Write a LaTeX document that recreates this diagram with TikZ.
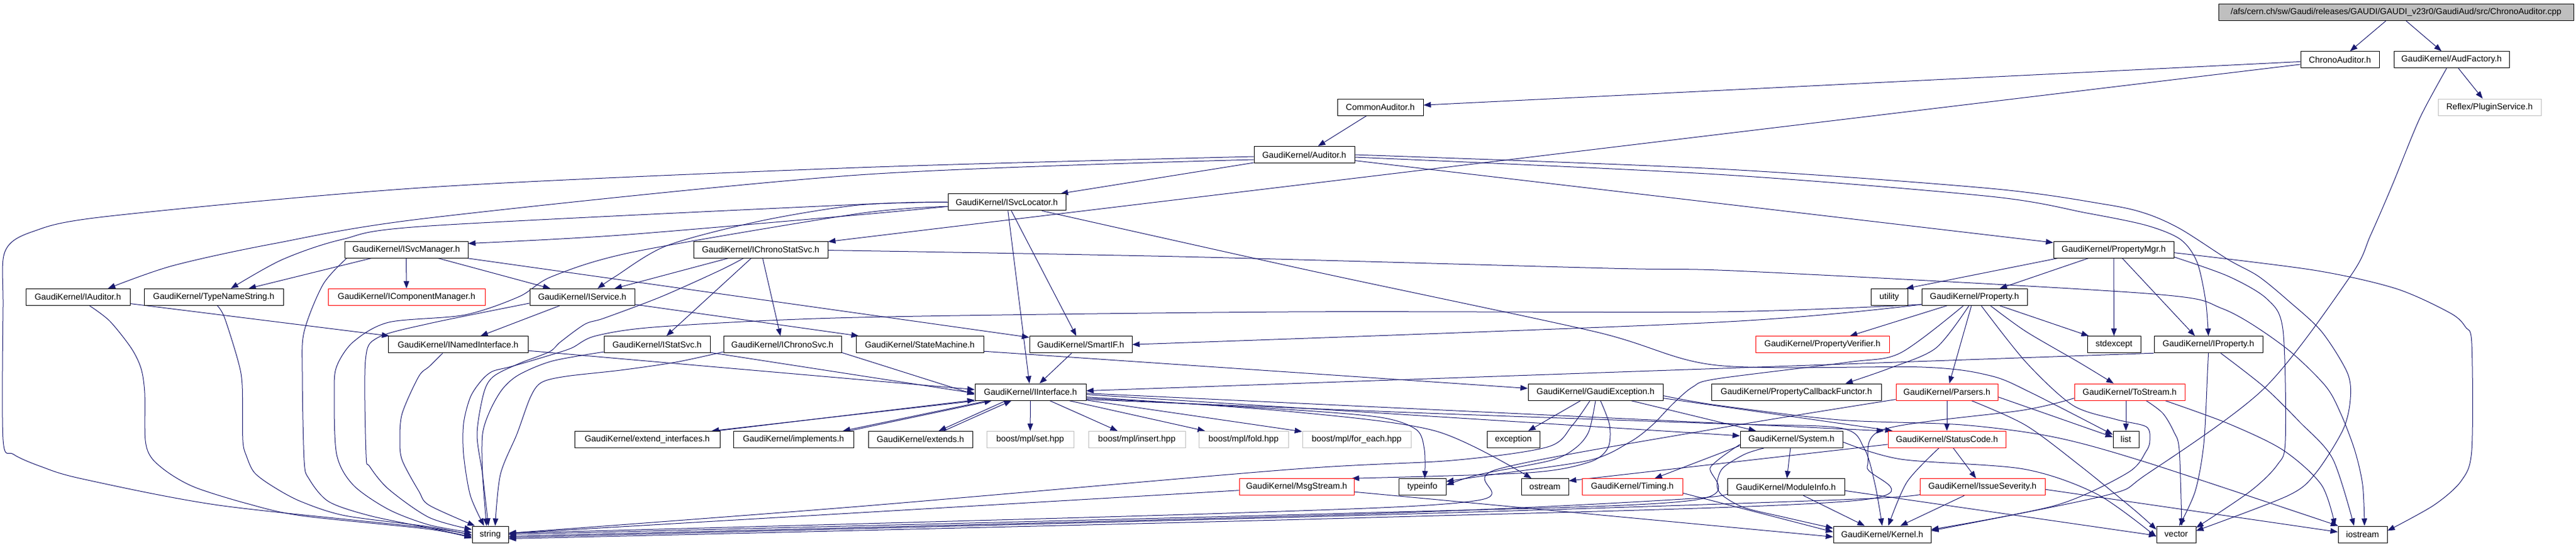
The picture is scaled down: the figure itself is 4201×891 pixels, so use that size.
\documentclass[tikz,border=0pt]{standalone}
\usepackage{fontspec}
\setmainfont{Liberation Sans}
\usetikzlibrary{arrows.meta}
\definecolor{edgec}{HTML}{191970}
\definecolor{redb}{HTML}{FF0000}
\definecolor{grayb}{HTML}{BFBFBF}
\pgfdeclarelayer{edgelayer}
\pgfsetlayers{edgelayer,main}
\newcommand\gbox[6]{\node[#1, minimum width=#5pt] (#2) at (#3,#4) {#6};}
\begin{document}
\begin{tikzpicture}[x=1pt,y=-1pt,
  nb/.style={draw=black, line width=1pt, fill=white, inner sep=0pt, minimum height=27pt, font=\fontsize{14}{16}\selectfont, text=black},
  rb/.style={nb, draw=redb},
  gb/.style={nb, draw=grayb},
  e/.style={draw=edgec, line width=1pt, -{Triangle[length=12pt,width=9pt]}}]
\useasboundingbox (0,0) rectangle (4201,891);
% row 0
\gbox{nb,fill=grayb}{root}{3907.5}{20}{579}{/afs/cern.ch/sw/Gaudi/releases/GAUDI/GAUDI\_v23r0/GaudiAud/src/ChronoAuditor.cpp}
% row 1
\gbox{nb}{chrA}{3816}{97.3}{128}{ChronoAuditor.h}
\gbox{nb}{audF}{3998}{97.3}{188}{GaudiKernel/AudFactory.h}
% row 2
\gbox{nb}{comA}{2251}{174.6}{140}{CommonAuditor.h}
\gbox{gb}{plug}{4060}{174.6}{168}{Reflex/PluginService.h}
% row 3
\gbox{nb}{aud}{2127}{252}{164}{GaudiKernel/Auditor.h}
% row 4
\gbox{nb}{svcLoc}{1642}{329.3}{192}{GaudiKernel/ISvcLocator.h}
% row 5
\gbox{nb}{svcMgr}{662.5}{406.6}{201}{GaudiKernel/ISvcManager.h}
\gbox{nb}{chronoStat}{1240.5}{406.6}{219}{GaudiKernel/IChronoStatSvc.h}
\gbox{nb}{propMgr}{3447}{406.6}{196}{GaudiKernel/PropertyMgr.h}
% row 6
\gbox{nb}{iAud}{127}{483.9}{170}{GaudiKernel/IAuditor.h}
\gbox{nb}{typeName}{348.5}{483.9}{227}{GaudiKernel/TypeNameString.h}
\gbox{rb}{iComp}{663}{483.9}{256}{GaudiKernel/IComponentManager.h}
\gbox{nb}{iSvc}{949.5}{483.9}{171}{GaudiKernel/IService.h}
\gbox{nb}{utility}{3081}{483.9}{60}{utility}
\gbox{nb}{prop}{3220}{483.9}{172}{GaudiKernel/Property.h}
% row 7
\gbox{nb}{named}{747}{561.2}{228}{GaudiKernel/INamedInterface.h}
\gbox{nb}{iStat}{1071.5}{561.2}{173}{GaudiKernel/IStatSvc.h}
\gbox{nb}{iChrono}{1276}{561.2}{192}{GaudiKernel/IChronoSvc.h}
\gbox{nb}{stateM}{1500}{561.2}{208}{GaudiKernel/StateMachine.h}
\gbox{nb}{smartIF}{1762.5}{561.2}{167}{GaudiKernel/SmartIF.h}
\gbox{rb}{propVer}{2972}{561.2}{218}{GaudiKernel/PropertyVerifier.h}
\gbox{nb}{stdexcept}{3447.5}{561.2}{87}{stdexcept}
\gbox{nb}{iProp}{3601.5}{561.2}{177}{GaudiKernel/IProperty.h}
% row 8
\gbox{nb}{iIntf}{1680.5}{638.6}{181}{GaudiKernel/IInterface.h}
\gbox{nb}{gExc}{2602}{638.6}{220}{GaudiKernel/GaudiException.h}
\gbox{nb}{propCB}{2929.5}{638.6}{277}{GaudiKernel/PropertyCallbackFunctor.h}
\gbox{rb}{parsers}{3175}{638.6}{166}{GaudiKernel/Parsers.h}
\gbox{rb}{toStream}{3473}{638.6}{180}{GaudiKernel/ToStream.h}
% row 9
\gbox{nb}{extIntf}{1055.5}{715.9}{237}{GaudiKernel/extend\_interfaces.h}
\gbox{nb}{impl}{1294}{715.9}{196}{GaudiKernel/implements.h}
\gbox{nb}{extends}{1501}{715.9}{170}{GaudiKernel/extends.h}
\gbox{gb}{mplset}{1680}{715.9}{142}{boost/mpl/set.hpp}
\gbox{gb}{mplinsert}{1854}{715.9}{158}{boost/mpl/insert.hpp}
\gbox{gb}{mplfold}{2028}{715.9}{146}{boost/mpl/fold.hpp}
\gbox{gb}{forEach}{2212.5}{715.9}{177}{boost/mpl/for\_each.hpp}
\gbox{nb}{exception}{2468}{715.9}{86}{exception}
\gbox{nb}{system}{2921.5}{715.9}{167}{GaudiKernel/System.h}
\gbox{rb}{statusCode}{3175}{715.9}{192}{GaudiKernel/StatusCode.h}
\gbox{nb}{nlist}{3467}{715.9}{42}{list}
% row 10
\gbox{rb}{msg}{2114.5}{793.2}{187}{GaudiKernel/MsgStream.h}
\gbox{nb}{typeinfo}{2319.5}{793.2}{77}{typeinfo}
\gbox{nb}{ostream}{2519.5}{793.2}{77}{ostream}
\gbox{rb}{timing}{2662}{793.2}{164}{GaudiKernel/Timing.h}
\gbox{nb}{moduleInfo}{2912.5}{793.2}{191}{GaudiKernel/ModuleInfo.h}
\gbox{rb}{issueSev}{3233}{793.2}{204}{GaudiKernel/IssueSeverity.h}
% row 11
\gbox{nb}{nstring}{799.5}{870.5}{59}{string}
\gbox{nb}{kernel}{3069.5}{870.5}{159}{GaudiKernel/Kernel.h}
\gbox{nb}{nvector}{3549}{870.5}{64}{vector}
\gbox{nb}{iostream}{3853}{870.5}{80}{iostream}

\begin{pgfonlayer}{edgelayer}
% top
\draw[e] (root) -- (chrA);
\draw[e] (root) -- (audF);
\draw[e] (chrA) -- (comA);
\draw[e] (chrA) -- (chronoStat);
\draw[e] (audF) -- (plug);
\draw[e] plot[smooth] coordinates {([xshift=-8pt]audF.south) (3946,193) (3902,300) (3866,383) (3833,450) (3692,633) (3500,773) (3434,807) ([yshift=6pt]kernel.east)};
\draw[e] (comA) -- (aud);
% Auditor
\draw[e] plot[smooth] coordinates {([yshift=-3pt]aud.west) (1400,273) (700,305) (179,352) (54,377) (8,410) (5,500) (5,716) (22,740) (67,760) (134,780) (357,823) (700,860) ([yshift=-2pt]nstring.west)};
\draw[e] plot[smooth] coordinates {([yshift=-8pt]aud.west) (1400,285) (700,355) (446,397) (281,433) ([xshift=49pt]iAud.north)};
\draw[e] (aud) -- (svcLoc);
\draw[e] (aud) -- (propMgr);
\draw[e] plot[smooth] coordinates {([yshift=-4pt]aud.east) (2800,284) (3246,320) (3403,347) (3500,367) (3556,390) (3583,427) (3597,490) (iProp.north)};
\draw[e] plot[smooth] coordinates {(aud.east) (2800,275) (3246,307) (3434,333) (3500,348) (3556,373) (3634,423) (3683,450) (3732,490) (3786,540) (3828,607) (3833,650) (3821,700) (3777,770) (3732,807) ([yshift=6pt]nvector.east)};
% ISvcLocator
\draw[e] plot[smooth] coordinates {(svcLoc.west) (1400,333) (700,368) (558,390) (460,423) ([xshift=28pt]typeName.north)};
\draw[e] plot[smooth] coordinates {(svcLoc.west) (1400,334) (1240,360) (1088,400) (1004,450) ([xshift=25pt]iSvc.north)};
\draw[e] plot[smooth] coordinates {([yshift=-7pt]svcLoc.west) (1400,350) (1012,383) ([yshift=10pt]svcMgr.east)};
\draw[e] plot[smooth] coordinates {([yshift=-7pt]svcLoc.west) (1400,348) (1035,410) (901,450) (847,483) (758,513) (634,525) (576,557) (549,597) (545,640) (549,740) (576,790) (634,830) (700,855) ([yshift=3pt]nstring.west)};
\draw[e] (svcLoc) -- (iIntf);
\draw[e] (svcLoc) -- (smartIF);
\draw[e] plot[smooth] coordinates {([xshift=57pt]svcLoc.south) (2133,440) (2600,540) (2800,595) (3135,598) (3246,612) (3313,640) ([yshift=8pt]nlist.west)};
% ISvcManager
\draw[e] (svcMgr) -- (iComp);
\draw[e] (svcMgr) -- (typeName);
\draw[e] plot[smooth] coordinates {([xshift=-97pt]svcMgr.south) (527,463) (496,540) (493,607) (496,750) (504,780) (536,817) (603,840) (700,860) ([yshift=-4pt]nstring.west)};
\draw[e] (svcMgr) -- (iSvc);
\draw[e] (svcMgr) -- (smartIF);
% IChronoStatSvc
\draw[e] (chronoStat) -- (iSvc);
\draw[e] plot[smooth] coordinates {([xshift=-28pt]chronoStat.south) (1175,440) (1079,483) (986,518) (954,528) (914,557) (896,573) (847,592) (805,613) (789,640) (778,707) (787,773) ([xshift=-3pt]nstring.north)};
\draw[e] (chronoStat) -- (iStat);
\draw[e] (chronoStat) -- (iChrono);
\draw[e] plot[smooth] coordinates {([yshift=-1pt]chronoStat.east) (1923,418) (2623,437) (2849,442) (3500,478) (3625,503) (3723,563) (3791,627) (3817,673) (3840,733) (3853,790) ([xshift=3pt]iostream.north)};
% IAuditor, TypeNameString, IService
\draw[e] (iAud) -- (named);
\draw[e] plot[smooth] coordinates {([xshift=19pt]iAud.south) (179,523) (214,567) (230,600) (236,640) (237,717) (248,747) (279,773) (321,795) (402,820) (491,840) (700,862) ([yshift=-6pt]nstring.west)};
\draw[e] plot[smooth] coordinates {([xshift=6pt]typeName.south) (366,517) (388,587) (395,627) (396,717) (402,743) (415,770) (446,793) (491,817) (563,840) (700,858) ([yshift=-1pt]nstring.west)};
\draw[e] (iSvc) -- (named);
\draw[e] (iSvc) -- (stateM);
\draw[e] plot[smooth] coordinates {([yshift=-10pt]iSvc.west) (700,527) (616,550) (596,587) (597,740) (603,760) (634,797) (700,843) ([yshift=8pt]nstring.west)};
% row 7 sources
\draw[e] ([yshift=-10pt]named.east) -- ([yshift=4pt]iIntf.west);
\draw[e] plot[smooth] coordinates {([xshift=-25pt]named.south) (700,597) (683,613) (656,673) (652,717) (656,750) (683,800) (700,823) ([xshift=5pt]nstring.north west)};
\draw[e] ([yshift=-13pt]iStat.east) -- ([yshift=-2pt]iIntf.west);
\draw[e] plot[smooth] coordinates {([yshift=-12pt]iStat.west) (901,588) (847,610) (820,633) (800,667) (787,707) (787,773) ([xshift=-6pt]nstring.north)};
\draw[e] ([yshift=-13pt]iChrono.east) -- ([yshift=-4pt]iIntf.west);
\draw[e] plot[smooth] coordinates {([yshift=-12pt]iChrono.west) (1102,590) (1012,603) (923,613) (883,623) (865,647) (843,707) (816,773) ([xshift=8pt]nstring.north)};
\draw[e] ([yshift=-11pt]stateM.east) -- ([yshift=6pt]gExc.west);
\draw[e] (smartIF) -- (iIntf);
% IInterface
\draw[e] ([xshift=4pt]iIntf.south west) -- ([xshift=-14pt]extIntf.north east);
\draw[e] ([xshift=-6pt]extIntf.north east) -- ([yshift=1pt]iIntf.south west);
\draw[e] ([xshift=22pt]iIntf.south west) -- ([xshift=-18pt]impl.north east);
\draw[e] ([xshift=-8pt]impl.north east) -- ([xshift=28pt]iIntf.south west);
\draw[e] ([xshift=-40pt]iIntf.south) -- ([xshift=30pt]extends.north);
\draw[e] ([xshift=38pt]extends.north) -- ([xshift=-31pt]iIntf.south);
\draw[e] (iIntf) -- (mplset);
\draw[e] (iIntf) -- (mplinsert);
\draw[e] (iIntf) -- (mplfold);
\draw[e] (iIntf) -- (forEach);
\draw[e] plot[smooth] coordinates {([yshift=-10pt]iIntf.east) (2100,667) (2252,680) (2310,700) (2323,733) ([xshift=4pt]typeinfo.north)};
\draw[e] plot[smooth] coordinates {([yshift=-8pt]iIntf.east) (2100,670) (2341,702) ([xshift=-22pt]ostream.north)};
\draw[e] ([yshift=-4pt]iIntf.east) -- ([yshift=6pt]system.west);
\draw[e] ([yshift=-2pt]iIntf.east) -- ([xshift=-6pt]statusCode.north west);
\draw[e] plot[smooth] coordinates {([yshift=-12pt]iIntf.east) (2300,672) (2800,690) (3000,697) (3040,730) (3058,790) (kernel.north)};
% GaudiException
\draw[e] (gExc) -- (exception);
\draw[e] plot[smooth] coordinates {([xshift=-9pt]gExc.south) (2564,693) (2524,728) (2368,750) (2100,765) (1400,825) ([yshift=2pt]nstring.east)};
\draw[e] plot[smooth] coordinates {([xshift=8pt]gExc.south) (2625,693) (2622,730) (2591,753) (2493,770) ([xshift=-4pt]msg.north east)};
\draw[e] plot[smooth] coordinates {(gExc.south) (2591,703) (2569,730) (2529,750) (2412,773) ([yshift=3pt]typeinfo.east)};
\draw[e] (gExc) -- (system);
\draw[e] ([yshift=-10pt]gExc.east) -- ([xshift=8pt]statusCode.north west);
\draw[e] plot[smooth] coordinates {([yshift=-6pt]gExc.east) (2800,660) (3000,684) (3200,692) (3350,712) (3500,753) ([xshift=-40pt]iostream.north)};
% System
\draw[e] (system) -- (moduleInfo);
\draw[e] plot[smooth] coordinates {([xshift=-45pt]system.south) (2845,740) (2809,763) (2800,790) (2809,807) (2845,827) (2912,843) ([yshift=10pt]kernel.west)};
\draw[e] ([yshift=-10pt]system.west) -- (timing);
\draw[e] plot[smooth] coordinates {([yshift=-8pt]system.west) (2790,760) (2760,815) (2200,836) (nstring.east)};
\draw[e] plot[smooth] coordinates {([yshift=-4pt]system.east) (3100,748) (3300,764) (3420,805) ([yshift=-4pt]nvector.west)};
% ModuleInfo
\draw[e] (moduleInfo) -- (kernel);
\draw[e] plot[smooth] coordinates {([yshift=-6pt]moduleInfo.west) (2760,812) (2200,838) ([yshift=-3pt]nstring.east)};
\draw[e] ([yshift=-6pt]moduleInfo.east) -- ([yshift=-2pt]nvector.west);
% StatusCode
\draw[e] plot[smooth] coordinates {([xshift=-13pt]statusCode.south) (3110,785) ([xshift=10pt]kernel.north)};
\draw[e] (statusCode) -- (issueSev);
\draw[e] ([yshift=-8pt]statusCode.west) -- ([yshift=10pt]ostream.east);
% IssueSeverity
\draw[e] (issueSev) -- (kernel);
\draw[e] plot[smooth] coordinates {([yshift=-6pt]issueSev.west) (3050,812) (2200,840) ([yshift=-5pt]nstring.east)};
\draw[e] ([yshift=-4pt]issueSev.east) -- ([yshift=4pt]iostream.west);
% Timing, MsgStream
\draw[e] ([yshift=-10pt]timing.east) -- ([yshift=4pt]kernel.west);
\draw[e] (msg) -- (nstring);
\draw[e] ([yshift=-8pt]msg.east) -- ([yshift=-4pt]kernel.west);
% Parsers
\draw[e] (parsers) -- (statusCode);
\draw[e] ([yshift=-8pt]parsers.east) -- ([yshift=4pt]nlist.west);
\draw[e] plot[smooth] coordinates {([xshift=40pt]parsers.south) (3304,693) (3394,760) (3480,830) ([yshift=8pt]nvector.west)};
\draw[e] plot[smooth] coordinates {([yshift=-12pt]parsers.west) (2800,698) (2440,765) (2410,815) (2000,836) ([yshift=2pt]nstring.east)};
% ToStream
\draw[e] ([xshift=-6pt]toStream.south) -- (nlist.north);
\draw[e] plot[smooth] coordinates {([xshift=27pt]toStream.south) (3527,673) (3545,703) (3554,733) ([xshift=9pt]nvector.north)};
\draw[e] plot[smooth] coordinates {([xshift=58pt]toStream.south) (3634,690) (3723,733) (3786,790) ([xshift=-45pt]iostream.north)};
\draw[e] plot[smooth] coordinates {([yshift=-10pt]toStream.west) (3300,668) (3070,700) (3045,760) (3030,815) (2200,844) ([yshift=-7pt]nstring.east)};
% Property
\draw[e] (prop) -- (propVer);
\draw[e] plot[smooth] coordinates {([xshift=-9pt]prop.south) (3157,567) (3081,600) ([xshift=80pt]propCB.north)};
\draw[e] ([xshift=-5pt]prop.south) -- ([xshift=4pt]parsers.north);
\draw[e] plot[smooth] coordinates {([xshift=26pt]prop.south) (3304,540) (3390,590) ([xshift=-26pt]toStream.north)};
\draw[e] (prop) -- (stdexcept);
\draw[e] plot[smooth] coordinates {([xshift=11pt]prop.south) (3304,590) (3380,660) (3450,683) (3500,695) (3506,717) (3500,735) (3470,770) (3353,823) ([yshift=8pt]kernel.east)};
\draw[e] plot[smooth] coordinates {([xshift=-18pt]prop.south) (3099,575) (3014,590) (2800,617) (2761,630) (2729,657) (2694,693) (2658,720) (2591,750) (2420,775) ([yshift=9pt]typeinfo.east)};
\draw[e] plot[smooth] coordinates {([yshift=-12pt]prop.west) (2800,508) (2100,508) (1400,517) (1079,532) (972,547) (932,567) (892,580) (834,597) (803,605) (785,620) (767,647) (756,690) (756,740) (767,807) ([xshift=-10pt]nstring.north)};
\draw[e] plot[smooth] coordinates {([yshift=-12pt]prop.west) (2800,525) (smartIF.east)};
% PropertyMgr
\draw[e] ([xshift=-91pt]propMgr.south) -- ([xshift=-3pt]utility.north east);
\draw[e] (propMgr) -- (prop);
\draw[e] (propMgr) -- (stdexcept);
\draw[e] ([xshift=14pt]propMgr.south) -- ([xshift=-22pt]iProp.north);
\draw[e] plot[smooth] coordinates {([yshift=-12pt]propMgr.east) (3634,450) (3697,487) (3723,537) (3727,717) (3714,757) (3670,800) ([yshift=11pt]nvector.east)};
\draw[e] plot[smooth] coordinates {([yshift=-5pt]propMgr.east) (3773,440) (3907,470) (3996,510) (4021,533) (4031,560) (4031,733) (4014,783) (3969,823) ([yshift=6pt]iostream.east)};
% IProperty
\draw[e] (iProp.south west) -- ([yshift=2pt]iIntf.east);
\draw[e] plot[smooth] coordinates {(iProp.south) (3600,607) (3594,723) (3580,800) ([xshift=5pt]nvector.north)};
\draw[e] plot[smooth] coordinates {([xshift=20pt]iProp.south) (3692,630) (3750,687) (3804,747) ([xshift=-14pt]iostream.north)};
\end{pgfonlayer}
\end{tikzpicture}
\end{document}
